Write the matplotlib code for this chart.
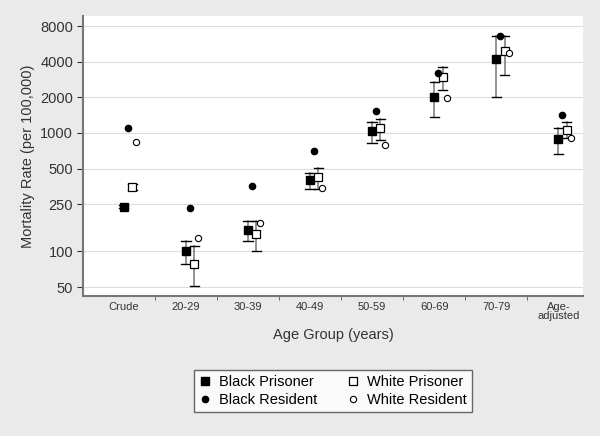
import numpy as np
import matplotlib.pyplot as plt
from matplotlib.ticker import FixedLocator, NullLocator

plt.rcParams["font.family"] = ["Liberation Sans", "DejaVu Sans"]

# === DATA ===
groups = ["Crude", "20-29", "30-39", "40-49", "50-59", "60-69", "70-79", "Age-\nadjusted"]

black_pris = [238, 100, 152, 403, 1040, 2030, 4180, 894]
black_pris_lo = [232, 79, 123, 339, 817, 1370, 2000, 671]
black_pris_hi = [246, 122, 180, 460, 1234, 2686, 6600, 1103]

white_pris = [350, 78, 139, 421, 1103, 2990, 4900, 1067]
white_pris_lo = [330, 51, 100, 339, 877, 2290, 3100, 900]
white_pris_hi = [372, 111, 180, 507, 1324, 3630, 6600, 1234]

black_res = [1110, 234, 356, 702, 1531, 3200, 6550, 1424]
white_res = [840, 130, 173, 346, 785, 1990, 4770, 906]

yticks = [50, 100, 250, 500, 1000, 2000, 4000, 8000]

# === FIGUR ===
fig = plt.figure(figsize=(6, 4.36), dpi=100)
fig.patch.set_facecolor("#eaeaea")
ax = fig.add_axes([0.138, 0.321, 0.834, 0.642])
ax.set_facecolor("white")

x = np.arange(len(groups))
off = {"bp": 0.0, "br": 0.065, "wp": 0.135, "wr": 0.2}

def errbars(xs, lo, hi):
    for xi, l, h in zip(xs, lo, hi):
        ax.plot([xi, xi], [l, h], color="#808080", lw=1.2, zorder=2)
        for v in (l, h):
            ax.plot([xi - 0.075, xi + 0.075], [v, v], color="black", lw=1.0, zorder=2)

errbars(x + off["bp"], black_pris_lo, black_pris_hi)
errbars(x + off["wp"], white_pris_lo, white_pris_hi)

ax.plot(x + off["bp"], black_pris, "s", color="black", ms=6, zorder=3, label="Black Prisoner")
ax.plot(x + off["wp"], white_pris, "s", mfc="white", mec="black", mew=0.9, ms=6, zorder=3,
        label="White Prisoner")
ax.plot(x + off["br"], black_res, "o", color="black", ms=4.5, zorder=4, label="Black Resident")
ax.plot(x + off["wr"], white_res, "o", mfc="white", mec="black", mew=0.8, ms=4.5, zorder=3,
        label="White Resident")

ax.set_yscale("log")
ax.set_ylim(42, 9700)
ax.yaxis.set_major_locator(FixedLocator(yticks))
ax.yaxis.set_minor_locator(NullLocator())
ax.set_yticklabels([str(t) for t in yticks], fontsize=10.5, color="#333333")
ax.grid(axis="y", color="#dddddd", lw=0.8)
ax.set_axisbelow(True)

ax.set_xlim(-0.66, 7.4)
ax.set_xticks(x)
ax.set_xticklabels(groups, fontsize=8, color="#333333", linespacing=0.95)
ax.tick_params(axis="x", length=0, pad=4)
ax.set_xticks(x[:-1] + 0.5, minor=True)
ax.tick_params(axis="x", which="minor", length=3, color="#555555")
ax.tick_params(axis="y", length=4, color="#333333", pad=3)

for s in ["top", "right"]:
    ax.spines[s].set_visible(False)
ax.spines["left"].set_color("#777777")
ax.spines["left"].set_linewidth(1.5)
ax.spines["bottom"].set_color("#777777")
ax.spines["bottom"].set_linewidth(1.5)

ax.set_ylabel("Mortality Rate (per 100,000)", fontsize=10.5, color="#333333")
ax.set_xlabel("Age Group (years)", fontsize=10.5, color="#333333", labelpad=5)

h, l = ax.get_legend_handles_labels()
# ncol=2 fills column-first: BP, BR in column 1; WP, WR in column 2
order = [0, 2, 1, 3]
leg = fig.legend([h[i] for i in order], [l[i] for i in order], ncol=2,
                 loc="center", bbox_to_anchor=(0.555, 0.103), fontsize=10.5,
                 frameon=True, fancybox=False, edgecolor="#444444",
                 handlelength=0.8, handletextpad=0.6, columnspacing=2.0,
                 borderpad=0.35, labelspacing=0.3)
leg.get_frame().set_linewidth(1.0)

plt.savefig("out.png", dpi=100, facecolor=fig.get_facecolor())
